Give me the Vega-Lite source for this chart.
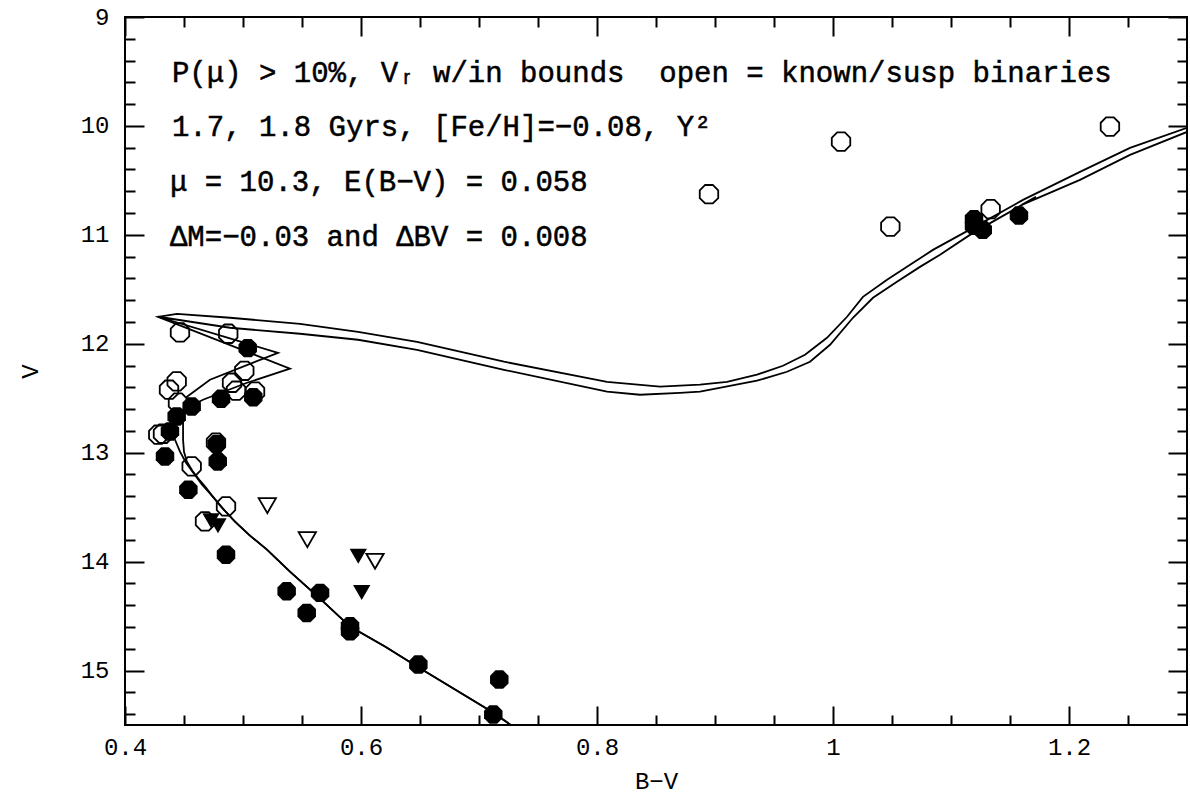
{
  "$schema": "https://vega.github.io/schema/vega-lite/v6.json",
  "description": "CMD with 1.7 and 1.8 Gyr isochrones",
  "width": 1062,
  "height": 708,
  "autosize": {"type": "none"},
  "padding": {"left": 125, "top": 17, "right": 3, "bottom": 77},
  "background": "white",
  "config": {
    "view": {"stroke": "black", "strokeWidth": 2},
    "axis": {
      "grid": false,
      "domain": false,
      "labelFont": "Liberation Mono",
      "titleFont": "Liberation Mono",
      "labelFontSize": 24,
      "titleFontSize": 24,
      "titleFontWeight": "normal",
      "labelColor": "black",
      "titleColor": "black",
      "tickColor": "black",
      "tickWidth": 2,
      "labelFlush": false,
      "labelOverlap": false
    }
  },
  "datasets": {
    "iso": [
      {"age": "1.7", "i": 1, "bv": 0.7407, "v": 15.606},
      {"age": "1.7", "i": 2, "bv": 0.7288, "v": 15.514},
      {"age": "1.7", "i": 3, "bv": 0.7119, "v": 15.385},
      {"age": "1.7", "i": 4, "bv": 0.6797, "v": 15.174},
      {"age": "1.7", "i": 5, "bv": 0.6475, "v": 14.963},
      {"age": "1.7", "i": 6, "bv": 0.6203, "v": 14.78},
      {"age": "1.7", "i": 7, "bv": 0.5907, "v": 14.596},
      {"age": "1.7", "i": 8, "bv": 0.5653, "v": 14.339},
      {"age": "1.7", "i": 9, "bv": 0.5398, "v": 14.092},
      {"age": "1.7", "i": 10, "bv": 0.5203, "v": 13.89},
      {"age": "1.7", "i": 11, "bv": 0.5059, "v": 13.761},
      {"age": "1.7", "i": 12, "bv": 0.4932, "v": 13.633},
      {"age": "1.7", "i": 13, "bv": 0.4822, "v": 13.505},
      {"age": "1.7", "i": 14, "bv": 0.4737, "v": 13.394},
      {"age": "1.7", "i": 15, "bv": 0.4653, "v": 13.294},
      {"age": "1.7", "i": 16, "bv": 0.4585, "v": 13.193},
      {"age": "1.7", "i": 17, "bv": 0.4517, "v": 13.092},
      {"age": "1.7", "i": 18, "bv": 0.4466, "v": 12.991},
      {"age": "1.7", "i": 19, "bv": 0.4424, "v": 12.881},
      {"age": "1.7", "i": 20, "bv": 0.4398, "v": 12.771},
      {"age": "1.7", "i": 21, "bv": 0.4432, "v": 12.661},
      {"age": "1.7", "i": 22, "bv": 0.4492, "v": 12.606},
      {"age": "1.7", "i": 23, "bv": 0.4661, "v": 12.514},
      {"age": "1.7", "i": 24, "bv": 0.5034, "v": 12.358},
      {"age": "1.7", "i": 25, "bv": 0.5398, "v": 12.229},
      {"age": "1.7", "i": 26, "bv": 0.428, "v": 11.752},
      {"age": "1.7", "i": 27, "bv": 0.4441, "v": 11.725},
      {"age": "1.7", "i": 28, "bv": 0.489, "v": 11.761},
      {"age": "1.7", "i": 29, "bv": 0.5483, "v": 11.817},
      {"age": "1.7", "i": 30, "bv": 0.5975, "v": 11.89},
      {"age": "1.7", "i": 31, "bv": 0.6475, "v": 11.982},
      {"age": "1.7", "i": 32, "bv": 0.7212, "v": 12.165},
      {"age": "1.7", "i": 33, "bv": 0.8085, "v": 12.349},
      {"age": "1.7", "i": 34, "bv": 0.8534, "v": 12.394},
      {"age": "1.7", "i": 35, "bv": 0.8873, "v": 12.376},
      {"age": "1.7", "i": 36, "bv": 0.9102, "v": 12.349},
      {"age": "1.7", "i": 37, "bv": 0.9356, "v": 12.284},
      {"age": "1.7", "i": 38, "bv": 0.9576, "v": 12.202},
      {"age": "1.7", "i": 39, "bv": 0.9763, "v": 12.101},
      {"age": "1.7", "i": 40, "bv": 0.9949, "v": 11.945},
      {"age": "1.7", "i": 41, "bv": 1.0119, "v": 11.752},
      {"age": "1.7", "i": 42, "bv": 1.0254, "v": 11.569},
      {"age": "1.7", "i": 43, "bv": 1.0458, "v": 11.413},
      {"age": "1.7", "i": 44, "bv": 1.0627, "v": 11.294},
      {"age": "1.7", "i": 45, "bv": 1.0847, "v": 11.138},
      {"age": "1.7", "i": 46, "bv": 1.1186, "v": 10.936},
      {"age": "1.7", "i": 47, "bv": 1.161, "v": 10.679},
      {"age": "1.7", "i": 48, "bv": 1.2093, "v": 10.422},
      {"age": "1.7", "i": 49, "bv": 1.2517, "v": 10.202},
      {"age": "1.7", "i": 50, "bv": 1.3, "v": 10.018},
      {"age": "1.8", "i": 1, "bv": 0.7407, "v": 15.606},
      {"age": "1.8", "i": 2, "bv": 0.7288, "v": 15.514},
      {"age": "1.8", "i": 3, "bv": 0.7119, "v": 15.385},
      {"age": "1.8", "i": 4, "bv": 0.6797, "v": 15.174},
      {"age": "1.8", "i": 5, "bv": 0.6475, "v": 14.963},
      {"age": "1.8", "i": 6, "bv": 0.6203, "v": 14.78},
      {"age": "1.8", "i": 7, "bv": 0.5907, "v": 14.596},
      {"age": "1.8", "i": 8, "bv": 0.5653, "v": 14.339},
      {"age": "1.8", "i": 9, "bv": 0.5398, "v": 14.092},
      {"age": "1.8", "i": 10, "bv": 0.5203, "v": 13.89},
      {"age": "1.8", "i": 11, "bv": 0.5059, "v": 13.761},
      {"age": "1.8", "i": 12, "bv": 0.4932, "v": 13.633},
      {"age": "1.8", "i": 13, "bv": 0.4822, "v": 13.505},
      {"age": "1.8", "i": 14, "bv": 0.4737, "v": 13.394},
      {"age": "1.8", "i": 15, "bv": 0.4686, "v": 13.321},
      {"age": "1.8", "i": 16, "bv": 0.4636, "v": 13.257},
      {"age": "1.8", "i": 17, "bv": 0.4576, "v": 13.174},
      {"age": "1.8", "i": 18, "bv": 0.4525, "v": 13.083},
      {"age": "1.8", "i": 19, "bv": 0.45, "v": 12.991},
      {"age": "1.8", "i": 20, "bv": 0.4492, "v": 12.881},
      {"age": "1.8", "i": 21, "bv": 0.4492, "v": 12.725},
      {"age": "1.8", "i": 22, "bv": 0.4525, "v": 12.486},
      {"age": "1.8", "i": 23, "bv": 0.472, "v": 12.33},
      {"age": "1.8", "i": 24, "bv": 0.5297, "v": 12.083},
      {"age": "1.8", "i": 25, "bv": 0.428, "v": 11.752},
      {"age": "1.8", "i": 26, "bv": 0.489, "v": 11.853},
      {"age": "1.8", "i": 27, "bv": 0.5483, "v": 11.908},
      {"age": "1.8", "i": 28, "bv": 0.5975, "v": 11.963},
      {"age": "1.8", "i": 29, "bv": 0.6475, "v": 12.055},
      {"age": "1.8", "i": 30, "bv": 0.7212, "v": 12.239},
      {"age": "1.8", "i": 31, "bv": 0.8085, "v": 12.44},
      {"age": "1.8", "i": 32, "bv": 0.8364, "v": 12.468},
      {"age": "1.8", "i": 33, "bv": 0.8703, "v": 12.45},
      {"age": "1.8", "i": 34, "bv": 0.8873, "v": 12.44},
      {"age": "1.8", "i": 35, "bv": 0.9356, "v": 12.339},
      {"age": "1.8", "i": 36, "bv": 0.961, "v": 12.257},
      {"age": "1.8", "i": 37, "bv": 0.9805, "v": 12.165},
      {"age": "1.8", "i": 38, "bv": 0.9975, "v": 12.009},
      {"age": "1.8", "i": 39, "bv": 1.0169, "v": 11.761},
      {"age": "1.8", "i": 40, "bv": 1.0339, "v": 11.578},
      {"age": "1.8", "i": 41, "bv": 1.0542, "v": 11.431},
      {"age": "1.8", "i": 42, "bv": 1.0737, "v": 11.294},
      {"age": "1.8", "i": 43, "bv": 1.0907, "v": 11.183},
      {"age": "1.8", "i": 44, "bv": 1.1186, "v": 10.982},
      {"age": "1.8", "i": 45, "bv": 1.15, "v": 10.789},
      {"age": "1.8", "i": 46, "bv": 1.172, "v": 10.651},
      {"age": "1.8", "i": 47, "bv": 1.16, "v": 10.725},
      {"age": "1.8", "i": 48, "bv": 1.2093, "v": 10.495},
      {"age": "1.8", "i": 49, "bv": 1.2517, "v": 10.266},
      {"age": "1.8", "i": 50, "bv": 1.3, "v": 10.055}
    ],
    "stars": [
      {"kind": "member", "bv": 0.504, "v": 12.04},
      {"kind": "member", "bv": 0.4814, "v": 12.505},
      {"kind": "member", "bv": 0.5087, "v": 12.49},
      {"kind": "member", "bv": 0.4565, "v": 12.575},
      {"kind": "member", "bv": 0.4438, "v": 12.667},
      {"kind": "member", "bv": 0.4381, "v": 12.805},
      {"kind": "member", "bv": 0.4339, "v": 13.034},
      {"kind": "member", "bv": 0.4777, "v": 12.92},
      {"kind": "member", "bv": 0.4786, "v": 13.08},
      {"kind": "member", "bv": 0.4537, "v": 13.34},
      {"kind": "member", "bv": 0.4856, "v": 13.936},
      {"kind": "member", "bv": 0.537, "v": 14.272},
      {"kind": "member", "bv": 0.5653, "v": 14.287},
      {"kind": "member", "bv": 0.554, "v": 14.471},
      {"kind": "member", "bv": 0.5907, "v": 14.594},
      {"kind": "member", "bv": 0.5907, "v": 14.64},
      {"kind": "member", "bv": 0.6486, "v": 14.945},
      {"kind": "member", "bv": 0.7172, "v": 15.083},
      {"kind": "member", "bv": 0.7121, "v": 15.404},
      {"kind": "member", "bv": 1.1195, "v": 10.856},
      {"kind": "member", "bv": 1.1195, "v": 10.917},
      {"kind": "member", "bv": 1.1269, "v": 10.954},
      {"kind": "member", "bv": 1.1576, "v": 10.823},
      {"kind": "binary", "bv": 0.4466, "v": 11.896},
      {"kind": "binary", "bv": 0.4875, "v": 11.908},
      {"kind": "binary", "bv": 0.5011, "v": 12.248},
      {"kind": "binary", "bv": 0.4438, "v": 12.346},
      {"kind": "binary", "bv": 0.4373, "v": 12.422},
      {"kind": "binary", "bv": 0.4907, "v": 12.358},
      {"kind": "binary", "bv": 0.4941, "v": 12.431},
      {"kind": "binary", "bv": 0.5102, "v": 12.44},
      {"kind": "binary", "bv": 0.4449, "v": 12.541},
      {"kind": "binary", "bv": 0.4282, "v": 12.835},
      {"kind": "binary", "bv": 0.4322, "v": 12.826},
      {"kind": "binary", "bv": 0.4771, "v": 12.908},
      {"kind": "binary", "bv": 0.4565, "v": 13.126},
      {"kind": "binary", "bv": 0.4856, "v": 13.493},
      {"kind": "binary", "bv": 0.4678, "v": 13.63},
      {"kind": "binary", "bv": 0.8949, "v": 10.627},
      {"kind": "binary", "bv": 1.0068, "v": 10.144},
      {"kind": "binary", "bv": 1.0486, "v": 10.924},
      {"kind": "binary", "bv": 1.1336, "v": 10.764},
      {"kind": "binary", "bv": 1.2347, "v": 10.006},
      {"kind": "tri_open", "bv": 0.5206, "v": 13.486},
      {"kind": "tri_open", "bv": 0.5545, "v": 13.798},
      {"kind": "tri_open", "bv": 0.6119, "v": 13.997},
      {"kind": "tri_filled", "bv": 0.5977, "v": 13.951},
      {"kind": "tri_filled", "bv": 0.6006, "v": 14.284},
      {"kind": "tri_filled", "bv": 0.4729, "v": 13.624},
      {"kind": "tri_filled", "bv": 0.4788, "v": 13.67}
    ],
    "notes": [
      {"bv": 0.4398, "v": 9.514, "t": "P(μ) > 10%, Vᵣ w/in bounds\u00a0 open = known/susp binaries"},
      {"bv": 0.4398, "v": 10.009, "t": "1.7, 1.8 Gyrs, [Fe/H]=−0.08, Y²"},
      {"bv": 0.4381, "v": 10.514, "t": "μ = 10.3, E(B−V) = 0.058"},
      {"bv": 0.4381, "v": 11.018, "t": "ΔM=−0.03 and ΔBV = 0.008"}
    ]
  },
  "resolve": {"axis": {"x": "independent", "y": "independent"}},
  "layer": [
    {
      "data": {"name": "iso"},
      "mark": {"type": "line", "color": "black", "strokeWidth": 1.8, "clip": true},
      "encoding": {
        "x": {
          "field": "bv", "type": "quantitative",
          "scale": {"domain": [0.4, 1.3], "nice": false, "zero": false},
          "axis": {"orient": "bottom", "values": [0.4, 0.6, 0.8, 1, 1.2], "format": "~g", "ticks": false, "labelPadding": 10, "title": "B−V", "titlePadding": 10}
        },
        "y": {
          "field": "v", "type": "quantitative",
          "scale": {"domain": [9, 15.5], "nice": false, "zero": false, "reverse": true},
          "axis": {"orient": "left", "values": [9, 10, 11, 12, 13, 14, 15], "format": "~g", "ticks": false, "labelPadding": 16, "title": "V", "titlePadding": 38}
        },
        "detail": {"field": "age"},
        "order": {"field": "i", "type": "quantitative"}
      }
    },
    {
      "data": {"name": "stars"},
      "transform": [{"filter": "datum.kind === 'binary'"}],
      "mark": {"type": "point", "shape": "M -0.383 -0.924 L 0.383 -0.924 L 0.924 -0.383 L 0.924 0.383 L 0.383 0.924 L -0.383 0.924 L -0.924 0.383 L -0.924 -0.383 Z", "filled": false, "stroke": "black", "strokeWidth": 1.8, "size": 400, "opacity": 1},
      "encoding": {
        "x": {"field": "bv", "type": "quantitative", "axis": {"orient": "bottom", "values": [0.4, 0.6, 0.8, 1, 1.2], "labels": false, "tickSize": -19, "title": null}},
        "y": {"field": "v", "type": "quantitative", "axis": {"orient": "left", "values": [9, 10, 11, 12, 13, 14, 15], "labels": false, "tickSize": -19, "title": null}}
      }
    },
    {
      "data": {"name": "stars"},
      "transform": [{"filter": "datum.kind === 'member'"}],
      "mark": {"type": "point", "shape": "M -0.383 -0.924 L 0.383 -0.924 L 0.924 -0.383 L 0.924 0.383 L 0.383 0.924 L -0.383 0.924 L -0.924 0.383 L -0.924 -0.383 Z", "filled": true, "color": "black", "size": 400, "opacity": 1},
      "encoding": {
        "x": {"field": "bv", "type": "quantitative", "axis": {"orient": "bottom", "values": [0.45, 0.5, 0.55, 0.65, 0.7, 0.75, 0.85, 0.9, 0.95, 1.05, 1.1, 1.15, 1.25], "labels": false, "tickSize": -10, "title": null}},
        "y": {"field": "v", "type": "quantitative", "axis": {"orient": "left", "values": [9.2, 9.4, 9.6, 9.8, 10.2, 10.4, 10.6, 10.8, 11.2, 11.4, 11.6, 11.8, 12.2, 12.4, 12.6, 12.8, 13.2, 13.4, 13.6, 13.8, 14.2, 14.4, 14.6, 14.8, 15.2, 15.4], "labels": false, "tickSize": -10, "title": null}}
      }
    },
    {
      "data": {"name": "stars"},
      "transform": [{"filter": "datum.kind === 'tri_open'"}],
      "mark": {"type": "point", "shape": "triangle-down", "filled": false, "stroke": "black", "strokeWidth": 1.8, "size": 300, "opacity": 1},
      "encoding": {
        "x": {"field": "bv", "type": "quantitative", "axis": {"orient": "top", "values": [0.4, 0.6, 0.8, 1, 1.2], "labels": false, "tickSize": -19, "title": null}},
        "y": {"field": "v", "type": "quantitative", "axis": {"orient": "right", "values": [9, 10, 11, 12, 13, 14, 15], "labels": false, "tickSize": -19, "title": null}}
      }
    },
    {
      "data": {"name": "stars"},
      "transform": [{"filter": "datum.kind === 'tri_filled'"}],
      "mark": {"type": "point", "shape": "triangle-down", "filled": true, "color": "black", "size": 300, "opacity": 1},
      "encoding": {
        "x": {"field": "bv", "type": "quantitative", "axis": {"orient": "top", "values": [0.45, 0.5, 0.55, 0.65, 0.7, 0.75, 0.85, 0.9, 0.95, 1.05, 1.1, 1.15, 1.25], "labels": false, "tickSize": -10, "title": null}},
        "y": {"field": "v", "type": "quantitative", "axis": {"orient": "right", "values": [9.2, 9.4, 9.6, 9.8, 10.2, 10.4, 10.6, 10.8, 11.2, 11.4, 11.6, 11.8, 12.2, 12.4, 12.6, 12.8, 13.2, 13.4, 13.6, 13.8, 14.2, 14.4, 14.6, 14.8, 15.2, 15.4], "labels": false, "tickSize": -10, "title": null}}
      }
    },
    {
      "data": {"name": "notes"},
      "mark": {"type": "text", "align": "left", "baseline": "middle", "font": "Liberation Mono", "fontSize": 29, "color": "black", "stroke": "black", "strokeWidth": 0.5},
      "encoding": {
        "x": {"field": "bv", "type": "quantitative", "axis": null},
        "y": {"field": "v", "type": "quantitative", "axis": null},
        "text": {"field": "t"}
      }
    }
  ]
}
